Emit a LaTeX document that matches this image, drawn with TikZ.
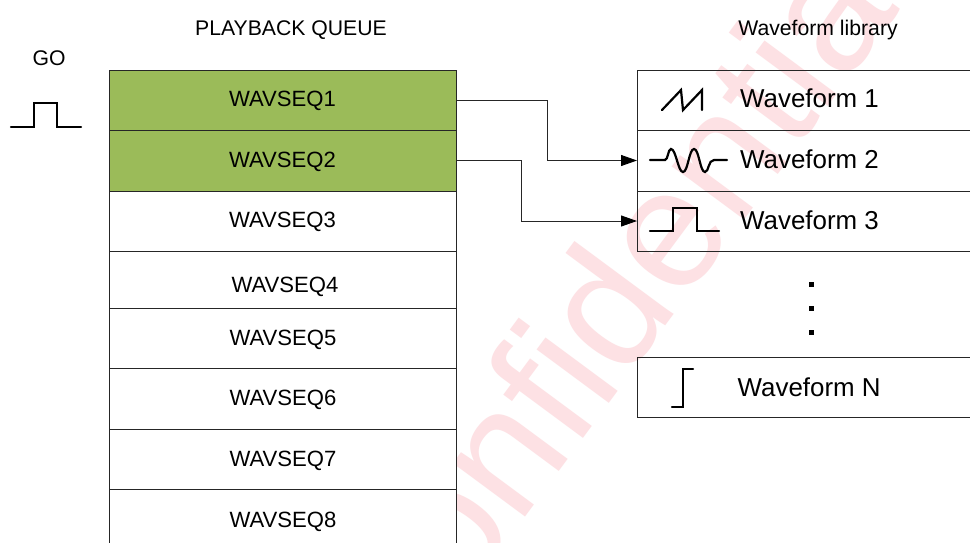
\documentclass[tikz,border=0pt]{standalone}
\usepackage{fontspec}
\setmainfont{Liberation Sans}
\usetikzlibrary{arrows.meta}
\definecolor{seqgreen}{HTML}{9BBB59}
\definecolor{wm}{HTML}{FDE1E4}
\tikzset{
  x=1pt,y=-1pt,
  rowbox/.style={draw=black!85,line width=0.9pt,fill=white,minimum width=347pt,anchor=north west,inner sep=0pt,outer sep=0pt},
  activebox/.style={rowbox,fill=seqgreen},
  libbox/.style={draw=black!85,line width=0.9pt,minimum width=360pt,minimum height=60pt,anchor=north west,inner sep=0pt,outer sep=0pt},
  seqtext/.style={font=\fontsize{22.1pt}{24pt}\selectfont,inner sep=0pt},
  libtext/.style={font=\fontsize{25.9pt}{28pt}\selectfont,inner sep=0pt,anchor=base west},
  title/.style={font=\fontsize{21.2pt}{24pt}\selectfont,inner sep=0pt},
  wave/.style={line width=2.2pt,line join=miter,line cap=round},
  link/.style={draw=black!85,line width=0.9pt,-{Triangle[length=16pt,width=11pt,color=black,fill=black]}},
  dotmark/.style={fill=black,minimum size=5pt,inner sep=0pt,outer sep=0pt},
  watermark/.style={text=wm,font=\fontsize{170pt}{175pt}\selectfont,rotate=53.5,inner sep=0pt,anchor=base}
}
\begin{document}
\begin{tikzpicture}
\path[use as bounding box,clip] (0,0) rectangle (970,542);
\fill[white] (0,0) rectangle (970,542);
\node[watermark] (mark) at (656,340) {Confidential};

\node[title] (qtitle) at (291,30) {PLAYBACK QUEUE};
\node[title] (ltitle) at (818,30) {Waveform library};
\node[title] (gotitle) at (49,58) {GO};

\node[activebox,minimum height=60pt] (q1) at (109.5,70) {};
\node[activebox,minimum height=61pt] (q2) at (109.5,130) {};
\node[rowbox,minimum height=60pt] (q3) at (109.5,191) {};
\node[rowbox,minimum height=57pt] (q4) at (109.5,251) {};
\node[rowbox,minimum height=60pt] (q5) at (109.5,308) {};
\node[rowbox,minimum height=61pt] (q6) at (109.5,368) {};
\node[rowbox,minimum height=60pt] (q7) at (109.5,429) {};
\node[rowbox,minimum height=60pt] (q8) at (109.5,489) {};

\node[seqtext] (t1) at (282.5,101) {WAVSEQ1};
\node[seqtext] (t2) at (282.5,162) {WAVSEQ2};
\node[seqtext] (t3) at (282.5,222) {WAVSEQ3};
\node[seqtext] (t4) at (285,287) {WAVSEQ4};
\node[seqtext] (t5) at (283,340) {WAVSEQ5};
\node[seqtext] (t6) at (283,400) {WAVSEQ6};
\node[seqtext] (t7) at (283,461) {WAVSEQ7};
\node[seqtext] (t8) at (283,522) {WAVSEQ8};

\node[libbox] (w1) at (637,70) {};
\node[libbox,minimum height=61pt] (w2) at (637,130) {};
\node[libbox] (w3) at (637,191) {};
\node[libbox] (wn) at (637,357) {};

\node[libtext] (l1) at (740,107.5) {Waveform 1};
\node[libtext] (l2) at (740,168) {Waveform 2};
\node[libtext] (l3) at (740,229) {Waveform 3};
\node[libtext] (ln) at (737.5,396) {Waveform N};

\node[dotmark] (d1) at (811,284) {};
\node[dotmark] (d2) at (811,308) {};
\node[dotmark] (d3) at (811,332) {};

\coordinate (a1) at (q1.east);
\coordinate (b1) at (w2.west);
\coordinate (a2) at (q2.east);
\coordinate (b2) at (w3.west);
\draw[link] (a1) -- (547,100) -- (547,160.5) -- (b1);
\draw[link] (a2) -- (521,160.5) -- (521,221) -- (b2);

% GO pulse
\draw[wave] (11,127) -- (34,127) -- (34,103) -- (57,103) -- (57,127) -- (81,127);
% sawtooth
\draw[wave] (662,110) -- (681,90) -- (683,110) -- (702,90) -- (702,110);
% sine burst
\draw[wave] (650,160) -- (665,160) .. controls (668,160) and (668,149) .. (671,149)
  .. controls (676,149) and (678,172) .. (683,172)
  .. controls (688,172) and (689,149) .. (694,149)
  .. controls (699,149) and (700,172) .. (705,172)
  .. controls (709,172) and (708,160) .. (714,160) -- (727,160);
% pulse
\draw[wave] (650,231) -- (673,231) -- (673,208) -- (697,208) -- (697,231) -- (719,231);
% step
\draw[wave] (672,407) -- (683,407) -- (683,369) -- (693,369);
\end{tikzpicture}
\end{document}
